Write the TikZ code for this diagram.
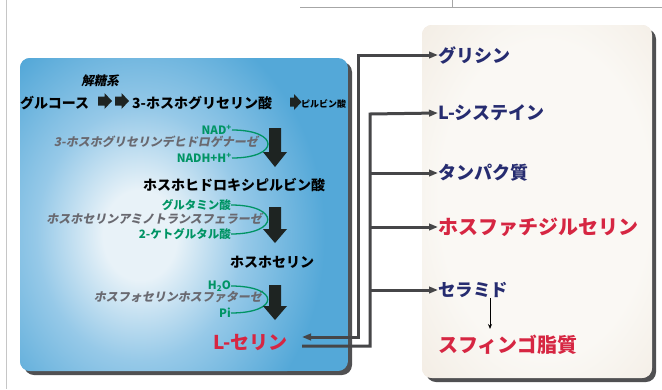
\documentclass[tikz,border=0pt]{standalone}
\usepackage{fontspec}
\setmainfont{Noto Sans CJK JP}
\newfontfamily\jpsl{Noto Sans CJK JP}[FakeSlant=0.2]
\usetikzlibrary{arrows.meta}
\definecolor{boxblue}{RGB}{84,168,216}
\definecolor{glowmid}{RGB}{150,201,232}
\definecolor{glowin}{RGB}{232,242,248}
\definecolor{beige}{RGB}{238,229,217}
\definecolor{beigein}{RGB}{250,248,244}
\definecolor{shadowgrey}{RGB}{80,80,82}
\definecolor{linegrey}{RGB}{70,70,72}
\definecolor{navy}{RGB}{38,44,112}
\definecolor{serred}{RGB}{214,38,66}
\definecolor{enzgreen}{RGB}{0,148,100}
\definecolor{enzgrey}{RGB}{105,105,112}
\definecolor{arrowdark}{RGB}{30,36,34}
\pgfdeclareradialshading{blueglow}{\pgfpoint{0bp}{0bp}}{color(0bp)=(glowin); color(5bp)=(glowin); color(14bp)=(glowmid); color(25bp)=(boxblue); color(50bp)=(boxblue)}
\pgfdeclareradialshading{beigeglow}{\pgfpoint{0bp}{0bp}}{color(0bp)=(beigein); color(12bp)=(beigein); color(25bp)=(beige); color(50bp)=(beige)}
\newcommand{\glyarrow}[3]{%
  \fill[arrowdark] (#1,#2-4.5) -- ++(#3,0) -- ++(0,-3.5) -- ++(7.5,8) -- ++(-7.5,8) -- ++(0,-3.5) -- ++(-#3,0) -- cycle;}
\newcommand{\bigdown}[3]{%
  \fill[arrowdark] (269,#1) -- (281,#1) -- (281,#2) -- (287,#2) -- (275,#3) -- (263,#2) -- (269,#2) -- cycle;}
\begin{document}
\begin{tikzpicture}[x=1pt,y=-1pt,
  txt/.style={inner sep=0pt, font=\fontsize{14pt}{16pt}\selectfont\bfseries},
  enz/.style={inner sep=0pt, text=enzgrey, font=\fontsize{12pt}{14pt}\selectfont\jpsl\bfseries},
  cof/.style={inner sep=0pt, text=enzgreen, font=\fontsize{11.5pt}{13pt}\selectfont\bfseries},
  prod/.style={inner sep=0pt, anchor=west, text=navy, font=\fontsize{18pt}{20pt}\selectfont\bfseries},
  prodred/.style={inner sep=0pt, anchor=west, text=serred, font=\fontsize{20pt}{22pt}\selectfont\bfseries},
  conn/.style={draw=linegrey, line width=3pt},
  tip/.style={-{Triangle[length=9pt,width=6.5pt]}},
  cofcurve/.style={draw=enzgreen, line width=1.3pt}]
\useasboundingbox (0,0) rectangle (662,389);
\fill[white] (0,0) rectangle (662,389);
% scan edges
\draw[gray!45, line width=0.7pt] (6,0) -- (6,389);
\draw[gray!70, line width=1pt] (300,7) -- (662,7);
\draw[gray!70, line width=0.6pt] (452,0) -- (452,7);
% left box
\fill[shadowgrey, rounded corners=10pt] (24,62) rectangle (352,375);
\begin{scope}
  \clip[rounded corners=10pt] (20,58) rectangle (348,371);
  \fill[boxblue] (20,58) rectangle (348,371);
  \shade[shading=blueglow] (140,235) ellipse (185 and 225);
\end{scope}
% right box
\fill[shadowgrey, rounded corners=10pt] (426,29) rectangle (656,382);
\begin{scope}
  \clip[rounded corners=10pt] (422,25) rectangle (652,378);
  \fill[beige] (422,25) rectangle (652,378);
  \shade[shading=beigeglow] (545,200) ellipse (220 and 330);
\end{scope}
% glycolysis line
\node[txt, anchor=center, font=\fontsize{12.5pt}{14pt}\selectfont\jpsl\bfseries] (kaito) at (100,81) {解糖系};
\node[txt, anchor=west] (glc) at (20,103) {グルコース};
\glyarrow{98}{101}{6.5}
\glyarrow{115}{101}{6.5}
\node[txt, anchor=west] (pg3) at (132,103) {3-ホスホグリセリン酸};
\glyarrow{290}{102}{4}
\node[inner sep=0pt, anchor=west, font=\fontsize{9pt}{10pt}\selectfont\bfseries] (pyr) at (301,104) {ピルビン酸};
% step 1
\node[cof, anchor=east] (nad) at (232,130) {NAD\textsuperscript{+}};
\node[enz, anchor=east] (enz1) at (258,142) {3-ホスホグリセリンデヒドロゲナーゼ};
\node[cof, anchor=east] (nadh) at (232,158) {NADH+H\textsuperscript{+}};
\draw[cofcurve] (nad.east) .. controls (280,130) and (280,158) .. (nadh.east);
\bigdown{128}{152}{167}
\node[txt, anchor=west] (php) at (143,185) {ホスホヒドロキシピルビン酸};
% step 2
\node[cof, anchor=east] (glu) at (231,205) {グルタミン酸};
\node[enz, anchor=east] (enz2) at (262,219) {ホスホセリンアミノトランスフェラーゼ};
\node[cof, anchor=east] (akg) at (231,234) {2-ケトグルタル酸};
\draw[cofcurve] (glu.east) .. controls (280,205) and (280,234) .. (akg.east);
\bigdown{207}{229}{243}
\node[txt, anchor=west] (ps) at (230,262) {ホスホセリン};
% step 3
\node[cof, anchor=east] (h2o) at (231,286) {H\raisebox{-0.35ex}{\fontsize{8pt}{9pt}\selectfont 2}O};
\node[enz, anchor=east] (enz3) at (262,297) {ホスフォセリンホスファターゼ};
\node[cof, anchor=east] (pi) at (231,313) {Pi};
\draw[cofcurve] (h2o.east) .. controls (280,286) and (280,313) .. (pi.east);
\bigdown{285}{306}{320}
\node[inner sep=0pt, anchor=west, text=serred, font=\fontsize{19pt}{21pt}\selectfont\bfseries] (ser) at (213,343) {L-セリン};
% products
\node[prod] (gly) at (438,55) {グリシン};
\node[prod] (cys) at (438,113) {L-システイン};
\node[prod] (prot) at (438,173) {タンパク質};
\node[prodred] (psr) at (438,227) {ホスファチジルセリン};
\node[prod, font=\fontsize{17.5pt}{19pt}\selectfont\bfseries] (cer) at (438,290) {セラミド};
\node[prodred] (sph) at (438,345) {スフィンゴ脂質};
% connectors
\coordinate (serin) at (302,337);
\coordinate (serout) at (302,346);
\coordinate (busA) at (358,55);
\coordinate (busB) at (370,114);
\draw[conn, {Triangle[length=9pt,width=6.5pt]}-{Triangle[length=9pt,width=6.5pt]}] (serin) -| (busA) -- (gly.west);
\draw[conn, tip] (serout) -| (busB) -- (cys.west);
\draw[conn, tip] (busB |- prot.west) -- (prot.west);
\draw[conn, tip] (busB |- psr.west) -- (psr.west);
\draw[conn, tip] (busB |- cer.west) -- (cer.west);
\coordinate (cerdown) at (490,298);
\coordinate (sphup) at (490,329);
\draw[line width=0.9pt, -{Stealth[length=5pt,width=4pt]}] (cerdown) -- (sphup);
\end{tikzpicture}
\end{document}
